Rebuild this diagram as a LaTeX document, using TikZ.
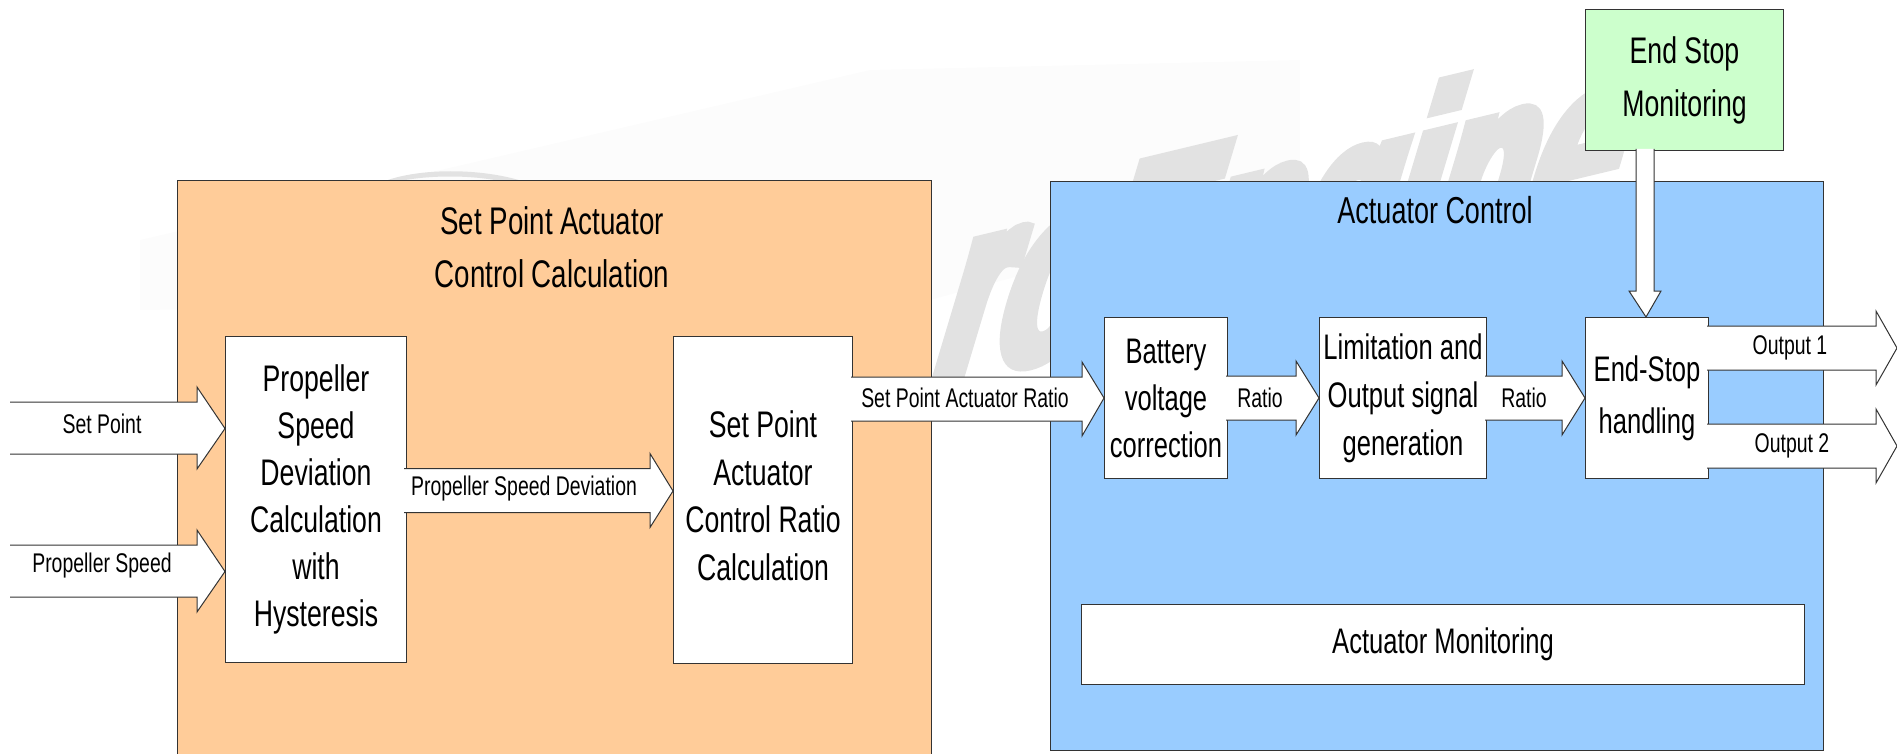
\documentclass[tikz,border=0pt]{standalone}
\usepackage{fontspec}
\setmainfont[FakeStretch=0.72]{Liberation Sans}
\newfontfamily\markfont[FakeStretch=0.58,FakeBold=5]{Liberation Sans}
\usetikzlibrary{calc}
\definecolor{calcorange}{HTML}{FFCC99}
\definecolor{ctrlblue}{HTML}{99CCFF}
\definecolor{stopgreen}{HTML}{CCFFCC}
\definecolor{edgegray}{HTML}{333333}
\definecolor{markgray}{HTML}{E2E2E2}
\definecolor{faintgray}{HTML}{FCFCFC}
\tikzset{
  panel/.style={draw=edgegray, line width=1pt, anchor=north west, inner sep=0pt},
  blockbox/.style={panel, fill=white, align=center, font=\fontsize{37}{47}\selectfont},
  blocktext/.style={align=center, inner sep=0pt},
  flowtext/.style={font=\fontsize{27}{30}\selectfont, inner sep=0pt},
  marktext/.style={cm={1,0.24,0.3,1,(0,0)}, transform shape, anchor=base west, inner sep=0pt, text=markgray, font=\markfont\bfseries\fontsize{270}{270}\selectfont},
  flow/.style 2 args={fill=white, draw=edgegray, line width=1pt, to path={
    let \p1=(\tikztostart), \p2=(\tikztotarget) in
    (\x1,\y1+#1pt) -- (\x2-#2pt,\y1+#1pt) -- (\x2-#2pt,\y1+#1pt+15pt) -- (\p2)
    -- (\x2-#2pt,\y1-#1pt-15pt) -- (\x2-#2pt,\y1-#1pt) -- (\x1,\y1-#1pt)}},
  flowdown/.style 2 args={fill=white, draw=edgegray, line width=1pt, to path={
    let \p1=(\tikztostart), \p2=(\tikztotarget) in
    (\x1-#1pt,\y1) -- (\x1-#1pt,\y2+#2pt) -- (\x1-#1pt-7pt,\y2+#2pt) -- (\p2)
    -- (\x1+#1pt+7pt,\y2+#2pt) -- (\x1+#1pt,\y2+#2pt) -- (\x1+#1pt,\y1)}},
}
\begin{document}
\begin{tikzpicture}[x=1pt, y=-1pt]
\useasboundingbox (0,0) rectangle (1897,754);
% faint lettering behind the panels
\fill[faintgray] (140,310) -- (140,240) -- (870,70) -- (1300,60) -- (1300,200) -- (930,300) -- cycle;
\fill[markgray] (385,181) .. controls (420,168) and (480,168) .. (522,181) -- (500,181) .. controls (470,175) and (430,175) .. (400,181) -- cycle;
\node[marktext] (markro) at (925,387) {ro};
\node[marktext] (markengine) at (1078,352) {Engine};
% panels
\path[fill=calcorange, draw=edgegray, line width=1pt] (931,754) -- (931,181) -- (177,181) -- (177,754);
\node[panel, fill=ctrlblue, minimum width=773pt, minimum height=569pt] (ctrlpanel) at (1050,181) {};
\node[blocktext, font=\fontsize{38.5}{53}\selectfont] (calctitle) at (552,247) {Set Point Actuator\\Control Calculation};
\node[blocktext, font=\fontsize{37.5}{47}\selectfont] (ctrltitle) at (1435,210) {Actuator Control};
% blocks
\node[blockbox, minimum width=181pt, minimum height=326pt] (devcalc) at (225,336) {Propeller\\Speed\\Deviation\\Calculation\\with\\Hysteresis};
\node[blockbox, minimum width=179pt, minimum height=327pt] (ratiocalc) at (673,336) {};
\node[blocktext, font=\fontsize{37}{47.5}\selectfont] (ratiotext) at ([yshift=4pt]ratiocalc.center) {Set Point\\Actuator\\Control Ratio\\Calculation};
\node[blockbox, font=\fontsize{35.5}{47}\selectfont, minimum width=123pt, minimum height=161pt] (battery) at (1104,317) {Battery\\voltage\\correction};
\node[blockbox, font=\fontsize{35.5}{48}\selectfont, minimum width=167pt, minimum height=161pt] (limit) at (1319,317) {Limitation and\\Output signal\\generation};
\node[blockbox, font=\fontsize{35.5}{52}\selectfont, minimum width=123pt, minimum height=161pt] (handling) at (1585,317) {End-Stop\\handling};
\node[blockbox, font=\fontsize{35.5}{47}\selectfont, minimum width=723pt, minimum height=80pt] (actmon) at (1081,604) {Actuator Monitoring};
\node[blockbox, fill=stopgreen, font=\fontsize{37}{53}\selectfont, minimum width=198pt, minimum height=141pt] (stopmon) at (1585,9) {End Stop\\Monitoring};
% flows between the blocks
\coordinate (setin) at (10,428);
\coordinate (speedin) at (10,571);
\coordinate (out1tip) at (1897,348);
\coordinate (out2tip) at (1897,446);
\draw[flow={26}{28}] (setin) to ([yshift=71pt]devcalc.west);
\draw[flow={26}{28}] (speedin) to ([yshift=-72pt]devcalc.west);
\draw[flow={22}{23}] ([xshift=-3pt,yshift=9pt]devcalc.east) to ([yshift=9pt]ratiocalc.west);
\draw[flow={22}{22}] ([xshift=-2pt,yshift=101pt]ratiocalc.east) to (battery.west);
\draw[flow={22}{23}] ([xshift=-2pt]battery.east) to (limit.west);
\draw[flow={22}{23}] ([xshift=-2pt]limit.east) to (handling.west);
\draw[flow={22}{21}] ([xshift=-2pt]handling.east |- out1tip) to (out1tip);
\draw[flow={22}{21}] ([xshift=-2pt]handling.east |- out2tip) to (out2tip);
\draw[flowdown={9}{26}] ([xshift=60pt,yshift=2pt]stopmon.south west) to ([xshift=-1pt]handling.north);
% flow labels
\node[flowtext] (setlabel) at (102,424) {Set Point};
\node[flowtext] (speedlabel) at (102,566) {Propeller Speed};
\node[flowtext] (devlabel) at (524,489) {Propeller Speed Deviation};
\node[flowtext] (ratiolabel) at (965,398) {Set Point Actuator Ratio};
\node[flowtext] (ratioone) at (1260,398) {Ratio};
\node[flowtext] (ratiotwo) at (1524,398) {Ratio};
\node[flowtext] (outone) at (1790,348) {Output 1};
\node[flowtext] (outtwo) at (1792,446) {Output 2};
\end{tikzpicture}
\end{document}
